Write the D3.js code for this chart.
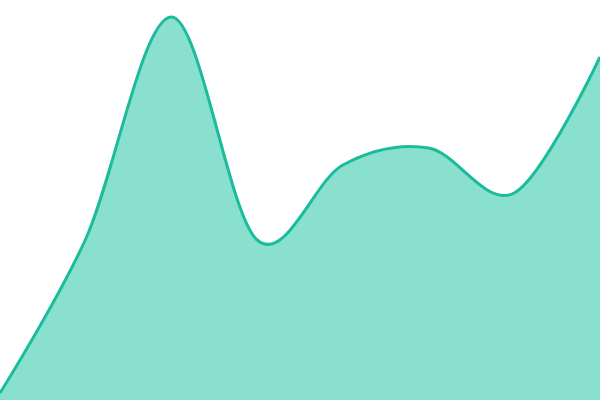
<!DOCTYPE html>
<html>
<head>
<meta charset="utf-8">
<script src="https://cdn.jsdelivr.net/npm/d3@7"></script>
<style>
  body { margin: 0; background: #fff; }
  svg { display: block; }
</style>
</head>
<body>
<svg width="600" height="400"></svg>
<script>
// data points, evenly spaced across the width
const categories = [0, 1, 2, 3, 4, 5, 6, 7];
const values = [7, 161, 383, 160, 235, 252, 207, 343];

const width = 600, height = 400;
const svg = d3.select('svg');

const x = d3.scaleLinear()
  .domain([0, categories.length - 1])
  .range([0, width]);

const y = d3.scaleLinear()
  .domain([0, 400])
  .range([height, 0]);

const data = categories.map((c, i) => ({ c: c, v: values[i] }));

const curve = d3.curveCardinal;

const area = d3.area()
  .x(d => x(d.c))
  .y0(height)
  .y1(d => y(d.v))
  .curve(curve);

const line = d3.line()
  .x(d => x(d.c))
  .y(d => y(d.v))
  .curve(curve);

svg.append('path')
  .datum(data)
  .attr('d', area)
  .attr('fill', '#8ae0cf');

svg.append('path')
  .datum(data)
  .attr('d', line)
  .attr('fill', 'none')
  .attr('stroke', '#1abc9c')
  .attr('stroke-width', 3);
</script>
</body>
</html>
